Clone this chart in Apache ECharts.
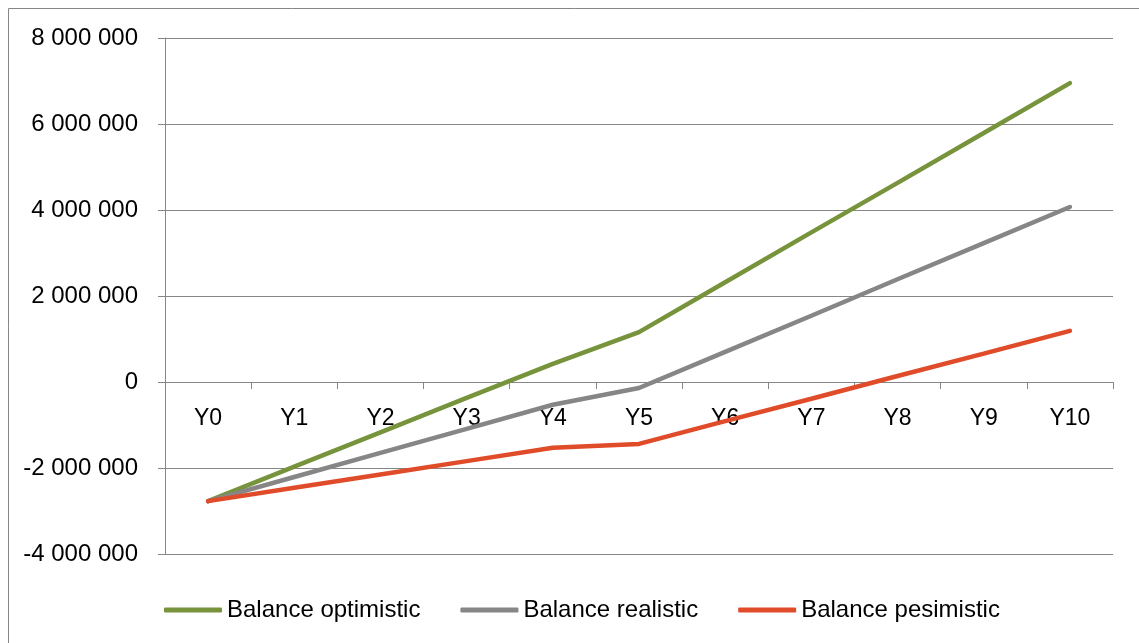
<!DOCTYPE html>
<html>
<head>
<meta charset="utf-8">
<script src="https://cdn.jsdelivr.net/npm/echarts@6/dist/echarts.min.js"></script>
<style>
  html, body { margin: 0; padding: 0; background: #fff; }
  #chart { width: 1139px; height: 643px; }
</style>
</head>
<body>
<div id="chart"></div>
<script>
// categories
var years = ["Y0", "Y1", "Y2", "Y3", "Y4", "Y5", "Y6", "Y7", "Y8", "Y9", "Y10"];

// series values
var optimistic = [-2770000, -1970000, -1170000, -370000, 420000, 1160000, 2320000, 3480000, 4630000, 5790000, 6950000];
var realistic = [-2770000, -2210000, -1650000, -1090000, -530000, -140000, 700000, 1540000, 2390000, 3230000, 4070000];
var pesimistic = [-2770000, -2460000, -2150000, -1840000, -1530000, -1440000, -910000, -390000, 140000, 660000, 1190000];

var names = ["Balance optimistic", "Balance realistic", "Balance pesimistic"];

var myChart = echarts.init(document.getElementById("chart"));

function fmt(v) {
  // thousands separated with spaces
  var s = Math.abs(v).toString().replace(/\B(?=(\d{3})+(?!\d))/g, " ");
  return (v < 0 ? "-" : "") + s;
}

var font = "Liberation Sans, Arial, sans-serif";

var option = {
  animation: false,
  backgroundColor: "#fff",
  graphic: [
    {
      type: "rect",
      shape: { x: 8.5, y: 8.5, width: 1200, height: 700 },
      style: { fill: "none", stroke: "#868686", lineWidth: 1 },
      silent: true
    }
  ],
  grid: {
    left: 165,
    right: 26,
    top: 38,
    bottom: 89
  },
  legend: {
    left: 159,
    top: 593,
    icon: "roundRect",
    itemWidth: 58,
    itemHeight: 5,
    itemGap: 40,
    textStyle: { fontFamily: font, fontSize: 24, color: "#000" },
    data: names
  },
  xAxis: {
    type: "category",
    data: years,
    boundaryGap: true,
    axisLine: { onZero: true, lineStyle: { color: "#868686", width: 1 } },
    axisTick: { show: true, length: 7, inside: false, lineStyle: { color: "#868686" } },
    // labels sit just under the zero line
    axisLabel: { margin: -147, fontFamily: font, fontSize: 23, color: "#000" },
    splitLine: { show: false }
  },
  yAxis: {
    type: "value",
    min: -4000000,
    max: 8000000,
    interval: 2000000,
    axisLine: { show: true, lineStyle: { color: "#868686", width: 1 } },
    axisTick: { show: true, length: 7, lineStyle: { color: "#868686" } },
    axisLabel: { margin: 27, fontFamily: font, fontSize: 24, color: "#000", formatter: fmt },
    splitLine: { show: true, lineStyle: { color: "#868686", width: 1 } }
  },
  series: [
    {
      name: names[0],
      type: "line",
      data: optimistic,
      symbol: "none",
      color: "#77933C",
      lineStyle: { width: 4.5, color: "#77933C", cap: "round" }
    },
    {
      name: names[1],
      type: "line",
      data: realistic,
      symbol: "none",
      color: "#868686",
      lineStyle: { width: 4.5, color: "#868686", cap: "round" }
    },
    {
      name: names[2],
      type: "line",
      data: pesimistic,
      symbol: "none",
      color: "#E04B2A",
      lineStyle: { width: 4.5, color: "#E04B2A", cap: "round" }
    }
  ]
};

myChart.setOption(option);
window.addEventListener("resize", function () {
  myChart.resize();
});
</script>
</body>
</html>
